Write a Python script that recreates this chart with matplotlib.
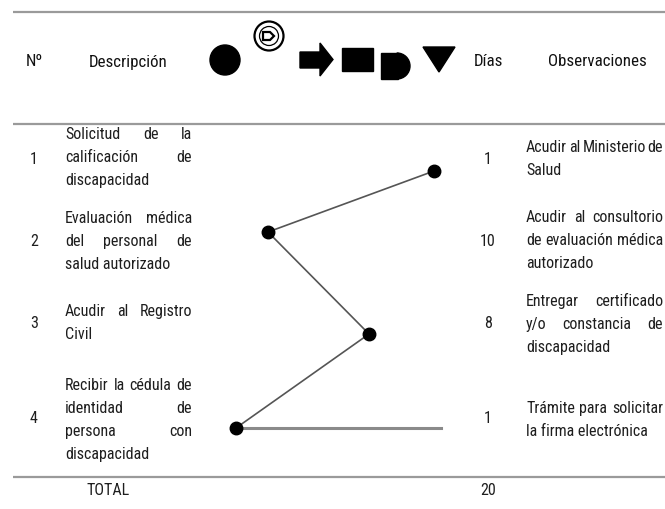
import matplotlib
matplotlib.use("Agg")
import matplotlib.pyplot as plt
from matplotlib import patches, font_manager

# table content
steps = [1, 2, 3, 4]
descriptions = [
    ["Solicitud de la", "calificación de", "discapacidad"],
    ["Evaluación médica", "del personal de", "salud autorizado"],
    ["Acudir al Registro", "Civil"],
    ["Recibir la cédula de", "identidad de", "persona con", "discapacidad"],
]
days = [1, 10, 8, 1]
observations = [
    ["Acudir al Ministerio de", "Salud"],
    ["Acudir al consultorio", "de evaluación médica", "autorizado"],
    ["Entregar certificado", "y/o constancia de", "discapacidad"],
    ["Trámite para solicitar", "la firma electrónica"],
]
total_days = 20
headers = ["Nº", "Descripción", "Días", "Observaciones"]

# route through the symbol columns
route_x = [434, 268, 369, 236]
route_y = [172, 233, 335, 429]
route_end_x = 441

# layout (pixels)
W, H = 665, 510
desc_top = [135, 219, 312, 386]
obs_top = [148, 218, 302, 409]
num_y = [160, 242, 324, 419]
line_gap = 23

names = {f.name for f in font_manager.fontManager.ttflist}
fam = ["DejaVu Sans"]
for cand in ["Liberation Sans Narrow", "Roboto Condensed", "Archivo Narrow", "PT Sans Narrow"]:
    if cand in names:
        fam = [cand, "DejaVu Sans"]
        break
plt.rcParams["font.family"] = fam

fig = plt.figure(figsize=(W / 100, H / 100), dpi=100)
ax = fig.add_axes([0, 0, 1, 1])
ax.set_xlim(0, W)
ax.set_ylim(H, 0)
ax.axis("off")
rend = fig.canvas.get_renderer()


def fit_size(word, target):
    t = ax.text(0, 0, word, fontsize=12)
    w = t.get_window_extent(rend).width
    t.remove()
    return 12 * target / w


body = dict(fontsize=fit_size("discapacidad", 84), color="#1e1e1e")
head = dict(fontsize=fit_size("Observaciones", 98), color="#111111")


def put_line(x0, x1, y, text, justify):
    words = text.split()
    if not justify or len(words) == 1:
        ax.text(x0, y, text, ha="left", va="center", **body)
        return
    objs = [ax.text(0, y, w, ha="left", va="center", **body) for w in words]
    widths = [o.get_window_extent(rend).width for o in objs]
    gap = max(2.0, (x1 - x0 - sum(widths)) / (len(words) - 1))
    x = x0
    for o, w in zip(objs, widths):
        o.set_x(x)
        x += w + gap


# rules
for y in [13, 125, 478]:
    ax.plot([13, W], [y, y], color="#9a9a9a", lw=1.6, solid_capstyle="butt")

# header
ax.text(34, 62, headers[0], ha="center", va="center", **head)
ax.text(128, 62, headers[1], ha="center", va="center", **head)
ax.text(488, 62, headers[2], ha="center", va="center", **head)
ax.text(597, 62, headers[3], ha="center", va="center", **head)

# symbols
ax.add_patch(patches.Circle((225, 61), 15, color="black"))
ax.add_patch(patches.Circle((269, 37), 14.5, fill=False, ec="black", lw=1.6))
ax.add_patch(patches.Circle((269, 37), 9.5, fill=False, ec="black", lw=0.9))
ax.add_patch(patches.Polygon([(263, 33), (270, 33), (274, 37), (270, 41), (263, 41)],
                             fill=False, ec="black", lw=1.6))
ax.add_patch(patches.Polygon([(300, 53), (320, 53), (320, 44), (333, 60.5), (320, 77),
                              (320, 69), (300, 69)], color="black"))
ax.add_patch(patches.Rectangle((342, 49), 31, 23, color="black"))
ax.add_patch(patches.Rectangle((381, 54), 17, 26, color="black"))
ax.add_patch(patches.Wedge((397, 67), 13, -90, 90, color="black"))
ax.add_patch(patches.Polygon([(423, 48), (455, 48), (439, 73)], color="black"))

# rows
for i, s in enumerate(steps):
    ax.text(34, num_y[i], str(s), ha="center", va="center", **body)
    ax.text(488, num_y[i], str(days[i]), ha="center", va="center", **body)
    lines = descriptions[i]
    for j, t in enumerate(lines):
        put_line(65, 192, desc_top[i] + j * line_gap, t, j < len(lines) - 1)
    lines = observations[i]
    for j, t in enumerate(lines):
        put_line(526, 663, obs_top[i] + j * line_gap, t, j < len(lines) - 1)

# route
ax.plot([route_x[-1], route_end_x], [route_y[-1], route_y[-1]], color="#8a8a8a", lw=2.2)
ax.plot(route_x, route_y, color="#555555", lw=1.2, marker="o", ms=9,
        mfc="black", mec="black")

ax.text(108, 491, "TOTAL", ha="center", va="center", **body)
ax.text(488, 491, str(total_days), ha="center", va="center", **body)

fig.savefig("out.png", dpi=100)
